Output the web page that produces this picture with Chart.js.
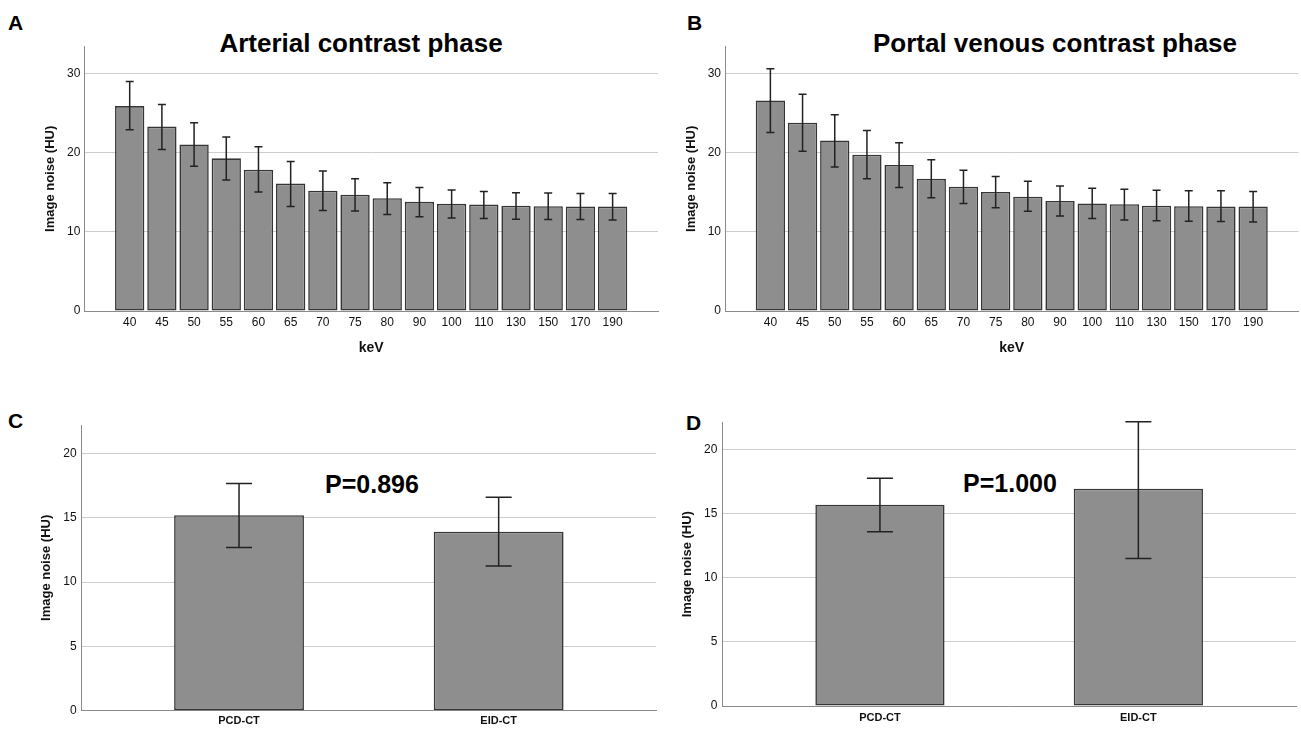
<!DOCTYPE html>
<html>
<head>
<meta charset="utf-8">
<script src="https://cdn.jsdelivr.net/npm/chart.js@4.4.1/dist/chart.umd.min.js"></script>
<style>
  html, body { margin: 0; padding: 0; background: #fff; }
  body { width: 1301px; height: 731px; position: relative; overflow: hidden;
         font-family: 'Liberation Sans', Arial, sans-serif; }
  canvas { position: absolute; }
  .txt { position: absolute; font-weight: bold; line-height: 1; color: #000; white-space: nowrap; }
  .ctr { text-align: center; width: 500px; }
</style>
</head>
<body>
<div class="txt" style="left:8px;top:12px;font-size:21px;">A</div>
<div class="txt" style="left:687px;top:12px;font-size:21px;">B</div>
<div class="txt" style="left:8px;top:410px;font-size:21px;">C</div>
<div class="txt" style="left:686px;top:412px;font-size:21px;">D</div>
<div class="txt ctr" style="left:111px;top:30px;font-size:26px;">Arterial contrast phase</div>
<div class="txt ctr" style="left:805px;top:30px;font-size:26px;">Portal venous contrast phase</div>
<div class="txt ctr" style="left:122px;top:472px;font-size:25px;">P=0.896</div>
<div class="txt ctr" style="left:760px;top:471px;font-size:25px;">P=1.000</div>

<canvas id="cA"></canvas>
<canvas id="cB"></canvas>
<canvas id="cC"></canvas>
<canvas id="cD"></canvas>

<script>
// ---------- data ----------
const keV = ['40','45','50','55','60','65','70','75','80','90','100','110','130','150','170','190'];

const arterialMean = [25.9, 23.3, 21.05, 19.3, 17.85, 16.1, 15.2, 14.7, 14.25, 13.8, 13.55, 13.45, 13.3, 13.25, 13.2, 13.2];
const arterialLow  = [22.9, 20.4, 18.3, 16.55, 15.05, 13.2, 12.7, 12.65, 12.2, 11.9, 11.75, 11.7, 11.6, 11.55, 11.55, 11.5];
const arterialHigh = [29.0, 26.1, 23.8, 22.0, 20.75, 18.9, 17.7, 16.7, 16.2, 15.6, 15.3, 15.1, 14.95, 14.9, 14.85, 14.85];

const portalMean = [26.6, 23.8, 21.55, 19.75, 18.45, 16.7, 15.7, 15.05, 14.45, 13.9, 13.6, 13.5, 13.3, 13.25, 13.2, 13.2];
const portalLow  = [22.55, 20.2, 18.2, 16.7, 15.6, 14.3, 13.6, 13.05, 12.6, 12.0, 11.7, 11.5, 11.4, 11.35, 11.3, 11.25];
const portalHigh = [30.6, 27.4, 24.8, 22.8, 21.25, 19.1, 17.8, 17.0, 16.4, 15.8, 15.5, 15.4, 15.25, 15.2, 15.2, 15.1];

const scanners = ['PCD-CT', 'EID-CT'];
const arterialScanMean = [15.19, 13.91];
const arterialScanLow  = [12.69, 11.24];
const arterialScanHigh = [17.66, 16.59];
const portalScanMean = [15.71, 16.96];
const portalScanLow  = [13.6, 11.52];
const portalScanHigh = [17.79, 22.2];

const yTicksKeV = [0, 10, 20, 30];
const yTicksScan = [0, 5, 10, 15, 20];

// ---------- drawing ----------
Chart.defaults.font.family = "'Liberation Sans', Arial, sans-serif";
Chart.defaults.color = '#111';

function errorBars(low, high, capHalf) {
  return {
    id: 'errorBars',
    afterDatasetsDraw(chart) {
      const xs = chart.scales.x, ys = chart.scales.y, ctx = chart.ctx;
      ctx.save();
      ctx.strokeStyle = '#222';
      ctx.lineWidth = 1.5;
      low.forEach((lo, i) => {
        const x = xs.getPixelForValue(i);
        const y1 = ys.getPixelForValue(lo);
        const y2 = ys.getPixelForValue(high[i]);
        ctx.beginPath();
        ctx.moveTo(x, y1); ctx.lineTo(x, y2);
        ctx.moveTo(x - capHalf, y1); ctx.lineTo(x + capHalf, y1);
        ctx.moveTo(x - capHalf, y2); ctx.lineTo(x + capHalf, y2);
        ctx.stroke();
      });
      ctx.restore();
    }
  };
}

function makePanel(id, g, cats, mean, low, high, yTicks) {
  const cv = document.getElementById(id);
  cv.width = g.w; cv.height = g.h;
  cv.style.left = g.left + 'px'; cv.style.top = g.top + 'px';
  cv.style.width = g.w + 'px'; cv.style.height = g.h + 'px';

  const titleFont = 13, titleOff = 4 + titleFont * 1.2 / 2;
  const padL = g.yTitleX - g.left - titleOff;
  const yWidth = g.plot.l - g.left - padL;
  const padTop = g.plot.t - g.top;
  const padRight = g.left + g.w - g.plot.r;
  let xHeight, padBottom;
  if (g.xTitle) {
    const off = 4 + 14 * 1.2 / 2;
    const scaleBottom = g.xTitleY + off;
    xHeight = scaleBottom - g.plot.b;
    padBottom = g.top + g.h - scaleBottom;
  } else {
    xHeight = g.top + g.h - g.plot.b;
    padBottom = 0;
  }

  new Chart(cv, {
    type: 'bar',
    data: {
      datasets: [{
        data: mean.map((v, i) => ({ x: i, y: v })),
        backgroundColor: '#8e8e8e',
        borderColor: '#353535',
        borderWidth: 1.6,
        borderSkipped: false,
        categoryPercentage: 1,
        barPercentage: g.barPct
      }]
    },
    options: {
      responsive: false,
      animation: false,
      devicePixelRatio: 1,
      layout: { padding: { left: padL, right: padRight, top: padTop, bottom: padBottom } },
      plugins: { legend: { display: false }, tooltip: { enabled: false } },
      scales: {
        x: {
          type: 'linear',
          offset: false,
          bounds: 'data',
          min: g.xMin, max: g.xMax,
          grid: { display: false, drawTicks: false, offset: false },
          border: { display: true, color: '#8a8a8a', width: 1 },
          afterBuildTicks: (s) => { s.ticks = cats.map((_, i) => ({ value: i })); },
          afterFit: (s) => { s.height = xHeight; },
          ticks: {
            autoSkip: false, maxRotation: 0, padding: g.xTickPad,
            font: { size: g.xTickSize, weight: g.xTickWeight },
            color: '#111',
            callback: (v) => cats[v]
          },
          title: g.xTitle ? { display: true, text: g.xTitle, font: { size: 14, weight: 'bold' }, color: '#111', padding: { top: 4, bottom: 4 } } : { display: false }
        },
        y: {
          type: 'linear',
          min: 0, max: g.yMax,
          grid: { display: true, color: '#cdcdcd', lineWidth: 1, drawTicks: false },
          border: { display: true, color: '#8a8a8a', width: 1 },
          afterBuildTicks: (s) => { s.ticks = yTicks.map(v => ({ value: v })); },
          afterFit: (s) => { s.width = yWidth; },
          ticks: { padding: g.yTickPad, font: { size: 12 }, color: '#111' },
          title: { display: true, text: 'Image noise (HU)', font: { size: titleFont, weight: 'bold' }, color: '#111', padding: { top: 4, bottom: 4 } }
        }
      }
    },
    plugins: [errorBars(low, high, g.cap)]
  });
}

const geoA = { left: 0, top: 0, w: 662, h: 370, plot: { l: 84.3, t: 46.7, r: 658, b: 311 },
  yTitleX: 50, xMin: -1.41, xMax: 16.41, yMax: 33.4, barPct: 0.91, cap: 4,
  xTitle: 'keV', xTitleY: 348, xTickPad: 4, xTickSize: 12, xTickWeight: 'normal', yTickPad: 4 };
const geoB = { left: 640, top: 0, w: 661, h: 370, plot: { l: 725, t: 46.7, r: 1298.5, b: 311 },
  yTitleX: 691.5, xMin: -1.41, xMax: 16.41, yMax: 33.4, barPct: 0.91, cap: 4,
  xTitle: 'keV', xTitleY: 348, xTickPad: 4, xTickSize: 12, xTickWeight: 'normal', yTickPad: 4 };
const geoC = { left: 0, top: 370, w: 662, h: 361, plot: { l: 81.7, t: 425, r: 656, b: 710.7 },
  yTitleX: 46, xMin: -0.606, xMax: 1.606, yMax: 22.2, barPct: 0.5, cap: 13,
  xTitle: null, xTickPad: 4, xTickSize: 11, xTickWeight: 'bold', yTickPad: 5 };
const geoD = { left: 650, top: 370, w: 651, h: 361, plot: { l: 722.3, t: 422.3, r: 1296, b: 706 },
  yTitleX: 687.5, xMin: -0.61, xMax: 1.61, yMax: 22.15, barPct: 0.5, cap: 13,
  xTitle: null, xTickPad: 5, xTickSize: 11, xTickWeight: 'bold', yTickPad: 5 };

makePanel('cA', geoA, keV, arterialMean, arterialLow, arterialHigh, yTicksKeV);
makePanel('cB', geoB, keV, portalMean, portalLow, portalHigh, yTicksKeV);
makePanel('cC', geoC, scanners, arterialScanMean, arterialScanLow, arterialScanHigh, yTicksScan);
makePanel('cD', geoD, scanners, portalScanMean, portalScanLow, portalScanHigh, yTicksScan);
</script>
</body>
</html>
